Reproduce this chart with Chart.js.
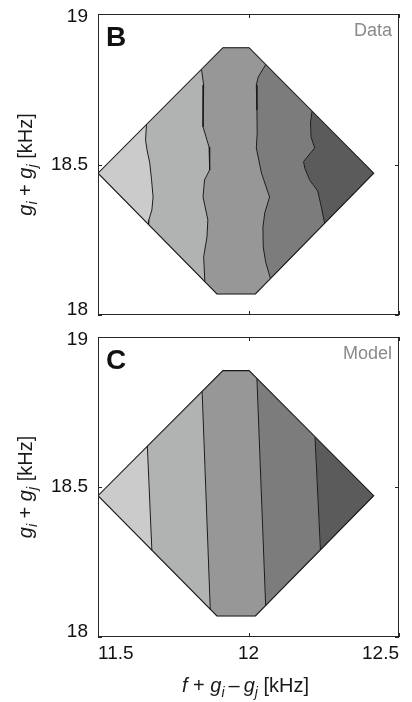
<!DOCTYPE html>
<html>
<head>
<meta charset="utf-8">
<script src="https://cdn.jsdelivr.net/npm/chart.js@4.4.1/dist/chart.umd.min.js"></script>
<style>
  html, body { margin: 0; padding: 0; background: #fff; width: 412px; height: 702px; overflow: hidden; }
  .panel { position: absolute; left: 0; width: 412px; }
  #wrapB { top: 0; height: 325px; }
  #wrapC { top: 325px; height: 377px; }
</style>
</head>
<body>
<div class="panel" id="wrapB"><canvas id="panelB"></canvas></div>
<div class="panel" id="wrapC"><canvas id="panelC"></canvas></div>
<script>
// ---- axis ticks (kHz) and their labels ----
const xTicks = [11.5, 12, 12.5];
const xTickLabels = ['11.5', '12', '12.5'];
const yTicks = [18, 18.5, 19];
const yTickLabels = ['18', '18.5', '19'];

// ---- grey level of each filled band, lowest to highest frequency ----
const bandColors = ['#cbcbcb', '#b1b3b3', '#979797', '#7c7c7c', '#5b5b5b'];

// ---- rim of the sampled region: upper and lower chain, left corner to right corner ----
const rimTop    = [[11.5, 18.471], [11.915, 18.888], [12.002, 18.888], [12.416, 18.471]];
const rimBottom = [[11.5, 18.471], [11.895, 18.070], [12.023, 18.070], [12.416, 18.471]];

// ---- panel B (Data): contour lines, each traced from upper rim to lower rim ----
const dataLevel1 = [[11.661, 18.631], [11.658, 18.581], [11.663, 18.548], [11.672, 18.505],
                    [11.678, 18.449], [11.683, 18.392], [11.679, 18.349], [11.669, 18.316], [11.668, 18.300]];
const dataLevel2 = [[11.844, 18.815], [11.851, 18.764], [11.849, 18.681], [11.849, 18.625],
                    [11.869, 18.558], [11.871, 18.482], [11.854, 18.449], [11.849, 18.392],
                    [11.865, 18.316], [11.862, 18.259], [11.851, 18.193], [11.855, 18.111]];
const dataLevel3 = [[12.057, 18.832], [12.032, 18.790], [12.026, 18.764], [12.028, 18.681],
                    [12.029, 18.605], [12.026, 18.555], [12.043, 18.472], [12.070, 18.392],
                    [12.054, 18.339], [12.048, 18.292], [12.049, 18.226], [12.057, 18.176], [12.073, 18.121]];
const dataLevel4 = [[12.211, 18.676], [12.206, 18.638], [12.208, 18.591], [12.220, 18.555],
                    [12.183, 18.510], [12.187, 18.488], [12.203, 18.449], [12.230, 18.412],
                    [12.242, 18.359], [12.253, 18.305]];

// ---- panel C (Model): contour lines ----
const modelLevel1 = [[11.664, 18.636], [11.679, 18.289]];
const modelLevel2 = [[11.846, 18.818], [11.873, 18.092]];
const modelLevel3 = [[12.028, 18.861], [12.057, 18.105]];
const modelLevel4 = [[12.221, 18.666], [12.239, 18.290]];

// ---- text ----
const yTitleParts = [{ t: 'g', it: true }, { t: 'i', it: true, sub: true }, { t: ' + ' },
                     { t: 'g', it: true }, { t: 'j', it: true, sub: true }, { t: ' [kHz]' }];
const xTitleParts = [{ t: 'f', it: true }, { t: ' + ' }, { t: 'g', it: true }, { t: 'i', it: true, sub: true },
                     { t: '\u2009\u2013\u2009' }, { t: 'g', it: true }, { t: 'j', it: true, sub: true }, { t: ' [kHz]' }];

const FONT = '"Liberation Sans", Arial, Helvetica, sans-serif';
const INK = '#1a1a1a';

const toXY = pts => pts.map(([x, y]) => ({ x, y }));

// polygon of one band, bounded by two contour lines (or a rim corner) and the rim between them
function bandPolygon(left, right) {
  const L = left || [rimTop[0]];
  const R = right || [rimTop[rimTop.length - 1]];
  const pts = L.slice();
  const xa = L[L.length - 1][0], xb = R[R.length - 1][0];
  rimBottom.forEach(p => { if (p[0] > xa && p[0] < xb) pts.push(p); });
  pts.push(...R.slice().reverse());
  const ta = L[0][0], tb = R[0][0];
  rimTop.slice().reverse().forEach(p => { if (p[0] > ta && p[0] < tb) pts.push(p); });
  pts.push(L[0]);
  return pts;
}

function buildDatasets(levels) {
  const bounds = [null, ...levels, null];
  const sets = [];
  // rim outline (drawn on top)
  sets.push({ data: toXY([...rimTop, ...rimBottom.slice(0, -1).reverse()]),
              borderColor: INK, borderWidth: 1.1, fill: false, pointRadius: 0, order: 0 });
  levels.forEach(lv => sets.push({ data: toXY(lv), borderColor: INK, borderWidth: 1,
                                   fill: false, pointRadius: 0, order: 1 }));
  bandColors.forEach((c, i) => sets.push({ data: toXY(bandPolygon(bounds[i], bounds[i + 1])),
                                           backgroundColor: c, borderColor: c, borderWidth: 0.6,
                                           fill: 'shape', pointRadius: 0, order: 2 }));
  return sets;
}

function partFont(p, size) {
  const s = p.sub ? Math.round(size * 0.68) : size;
  return (p.it ? 'italic ' : '') + s + 'px ' + FONT;
}
function drawRich(ctx, parts, size, cx, baseline) {
  let w = 0;
  parts.forEach(p => { ctx.font = partFont(p, size); w += ctx.measureText(p.t).width; });
  let x = cx - w / 2;
  ctx.textAlign = 'left';
  ctx.textBaseline = 'alphabetic';
  parts.forEach(p => {
    ctx.font = partFont(p, size);
    ctx.fillText(p.t, x, baseline + (p.sub ? size * 0.24 : 0));
    x += ctx.measureText(p.t).width;
  });
}

// box, inward tick marks, panel letter, tag and axis titles
const panelDecor = {
  id: 'panelDecor',
  afterDatasetsDraw(chart, args, opts) {
    const { ctx, chartArea: a, scales: { x, y } } = chart;
    ctx.save();
    ctx.strokeStyle = '#262626';
    ctx.lineWidth = 1;
    ctx.strokeRect(a.left + 0.5, a.top + 0.5, a.right - a.left - 1, a.bottom - a.top - 1);
    ctx.beginPath();
    xTicks.forEach(v => {
      const px = Math.round(x.getPixelForValue(v)) + 0.5;
      ctx.moveTo(px, a.top); ctx.lineTo(px, a.top + 4);
      ctx.moveTo(px, a.bottom); ctx.lineTo(px, a.bottom - 4);
    });
    yTicks.forEach(v => {
      const py = Math.round(y.getPixelForValue(v)) + 0.5;
      ctx.moveTo(a.left, py); ctx.lineTo(a.left + 4, py);
      ctx.moveTo(a.right, py); ctx.lineTo(a.right - 4, py);
    });
    ctx.stroke();

    ctx.fillStyle = '#111';
    ctx.font = 'bold 28px ' + FONT;
    ctx.textAlign = 'left';
    ctx.textBaseline = 'alphabetic';
    ctx.fillText(opts.letter, a.left + 8, a.top + 32);

    ctx.fillStyle = '#8a8a8a';
    ctx.font = '18px ' + FONT;
    ctx.textAlign = 'right';
    ctx.fillText(opts.tag, a.right - 7, a.top + 22);

    ctx.fillStyle = INK;
    ctx.save();
    ctx.translate(32, (a.top + a.bottom) / 2);
    ctx.rotate(-Math.PI / 2);
    drawRich(ctx, yTitleParts, 20, 0, 0);
    ctx.restore();

    if (opts.xTitle) {
      drawRich(ctx, xTitleParts, 20, (a.left + a.right) / 2 - 3, chart.height - 10);
    }
    ctx.restore();
  }
};

function makePanel(id, levels, letter, tag, withX, pad) {
  const last = yTicks.length - 1;
  return new Chart(document.getElementById(id), {
    type: 'line',
    data: { datasets: buildDatasets(levels) },
    plugins: [panelDecor],
    options: {
      responsive: true,
      maintainAspectRatio: false,
      animation: false,
      events: [],
      layout: { padding: pad },
      elements: { line: { tension: 0 } },
      plugins: {
        legend: { display: false },
        tooltip: { enabled: false },
        panelDecor: { letter, tag, xTitle: withX }
      },
      scales: {
        x: {
          type: 'linear', min: 11.5, max: 12.5, display: withX,
          afterBuildTicks: s => { s.ticks = xTicks.map(v => ({ value: v })); },
          afterFit: s => { s.height = withX ? 65 : 0; s.paddingLeft = 0; s.paddingRight = 0; },
          grid: { display: false, drawTicks: false },
          border: { display: false },
          ticks: { font: { family: FONT, size: 19, lineHeight: 1 }, color: '#111', padding: 7,
                   align: 'inner', maxRotation: 0, callback: (v, i) => xTickLabels[i] }
        },
        y: {
          type: 'linear', min: 18, max: 19,
          afterBuildTicks: s => { s.ticks = yTicks.map(v => ({ value: v })); },
          afterFit: s => { s.width = 98; s.paddingTop = 0; s.paddingBottom = 0; },
          grid: { display: false, drawTicks: false },
          border: { display: false },
          // end labels sit slightly inside the box: an empty companion line shifts them inward
          ticks: {
            color: '#111', padding: 10,
            font: c => ({ family: FONT, size: 19,
                          lineHeight: c.index === 0 ? 0.58 : (c.index === last ? 0.26 : 1) }),
            callback: (v, i) => i === 0 ? [yTickLabels[i], ''] :
                                (i === last ? ['', yTickLabels[i]] : yTickLabels[i])
          }
        }
      }
    }
  });
}

makePanel('panelB', [dataLevel1, dataLevel2, dataLevel3, dataLevel4], 'B', 'Data', false,
          { left: 0, right: 13, top: 14, bottom: 10 });
makePanel('panelC', [modelLevel1, modelLevel2, modelLevel3, modelLevel4], 'C', 'Model', true,
          { left: 0, right: 13, top: 12, bottom: 0 });
</script>
</body>
</html>
